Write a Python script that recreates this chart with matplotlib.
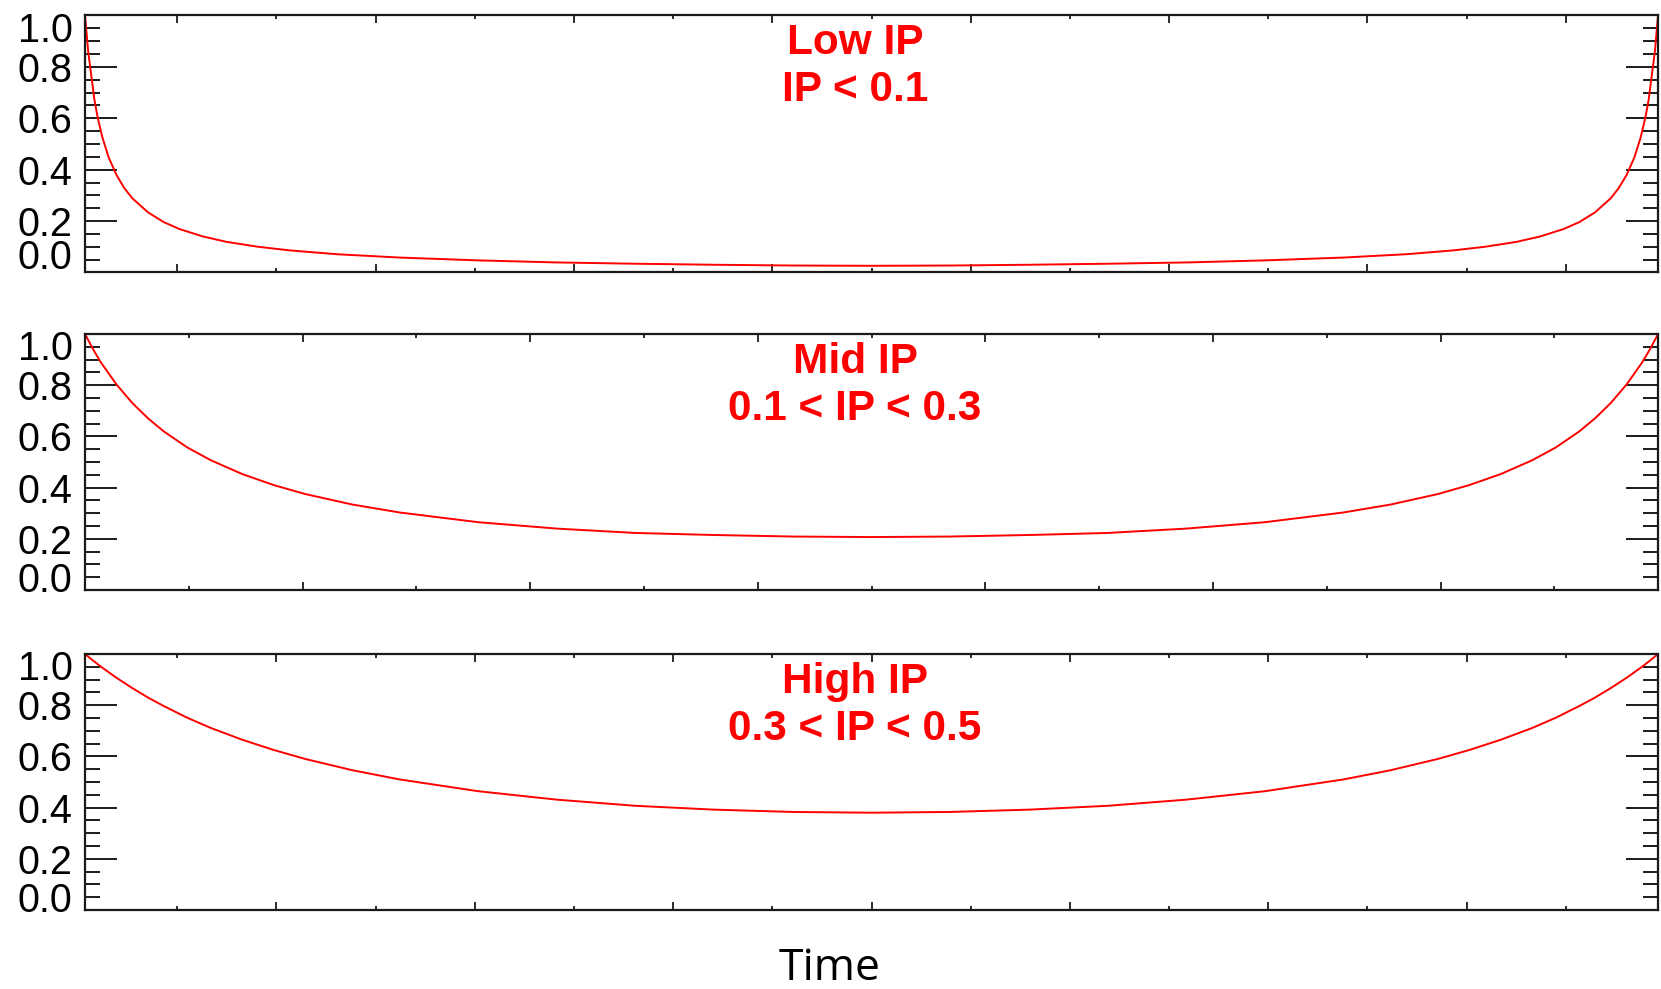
import numpy as np
import matplotlib
matplotlib.use('Agg')
import matplotlib.pyplot as plt

# time is normalised to 0..1 over the plotted interval
# panel 1 : low IP
t_low = [0, 0.002, 0.004, 0.006, 0.008, 0.011, 0.015, 0.02, 0.025, 0.03, 0.04, 0.05, 0.06,
         0.075, 0.09, 0.11, 0.13, 0.16, 0.2, 0.25, 0.3, 0.35, 0.4, 0.45, 0.5,
         0.55, 0.6, 0.65, 0.7, 0.75, 0.8, 0.84, 0.87, 0.89, 0.91, 0.925, 0.94, 0.95,
         0.96, 0.97, 0.975, 0.98, 0.985, 0.989, 0.992, 0.994, 0.996, 0.998, 1]
v_low = [1.0, 0.859, 0.765, 0.670, 0.604, 0.526, 0.448, 0.379, 0.328, 0.289, 0.234, 0.196, 0.169,
         0.140, 0.119, 0.100, 0.086, 0.071, 0.058, 0.047, 0.039, 0.034, 0.030, 0.027, 0.026,
         0.027, 0.030, 0.034, 0.039, 0.047, 0.058, 0.071, 0.086, 0.100, 0.119, 0.140, 0.169, 0.196,
         0.234, 0.289, 0.328, 0.379, 0.448, 0.526, 0.604, 0.670, 0.765, 0.859, 1.0]

# panels 2 and 3 share the same sampling in time
t_mid = [0, 0.005, 0.01, 0.02, 0.03, 0.04, 0.05, 0.065, 0.08, 0.1, 0.12, 0.14, 0.17, 0.2,
         0.25, 0.3, 0.35, 0.4, 0.45, 0.5,
         0.55, 0.6, 0.65, 0.7, 0.75, 0.8, 0.83, 0.86, 0.88, 0.9, 0.92, 0.935, 0.95, 0.96,
         0.97, 0.98, 0.99, 0.995, 1]
t_high = t_mid

# panel 2 : mid IP
v_mid = [1.0, 0.942, 0.890, 0.803, 0.731, 0.671, 0.620, 0.557, 0.507, 0.453, 0.410, 0.375, 0.334, 0.303,
         0.265, 0.240, 0.223, 0.215, 0.209, 0.207,
         0.209, 0.215, 0.223, 0.240, 0.265, 0.303, 0.334, 0.375, 0.410, 0.453, 0.507, 0.557, 0.620, 0.671,
         0.731, 0.803, 0.890, 0.942, 1.0]

# panel 3 : high IP
v_high = [1.0, 0.975, 0.951, 0.907, 0.867, 0.830, 0.797, 0.751, 0.711, 0.665, 0.625, 0.590, 0.546, 0.510,
          0.464, 0.431, 0.407, 0.392, 0.383, 0.380,
          0.383, 0.392, 0.407, 0.431, 0.464, 0.510, 0.546, 0.590, 0.625, 0.665, 0.711, 0.751, 0.797, 0.830,
          0.867, 0.907, 0.951, 0.975, 1.0]

titles = [('Low IP', 'IP < 0.1'), ('Mid IP', '0.1 < IP < 0.3'), ('High IP', '0.3 < IP < 0.5')]
y_labels = ['0.2', '0.4', '0.6', '0.8']

plt.rcParams['font.family'] = 'Liberation Sans'

fig = plt.figure(figsize=(16.61, 9.89), dpi=100)

# axes rectangles (fig fractions) for the three stacked panels
rects = [[0.0512, 0.7245, 0.947, 0.2599],
         [0.0512, 0.4034, 0.947, 0.2588],
         [0.0512, 0.0799, 0.947, 0.2588]]

# x tick spacing (fraction of the interval) and whether the centre tick is a major one
minor_step = [0.06306, 0.07235, 0.06306]
centre_major = [False, False, True]

# offsets in points of the end labels 1.0 and 0.0 (IDL pulls them inside the box)
top_shift = [-8, -8, -8]
bottom_shift = [13, 9.5, 9.5]

data = [(t_low, v_low), (t_mid, v_mid), (t_high, v_high)]
ink = '#1a1a1a'
lab_size = 28.5

for i in range(3):
    ax = fig.add_axes(rects[i])
    t, v = data[i]
    ax.plot(t, v, color='red', lw=1.4)
    ax.set_xlim(0, 1)
    ax.set_ylim(0, 1)

    # x ticks, symmetric about the centre
    k = np.arange(-9, 10)
    pos = 0.5 + k * minor_step[i]
    is_major = (k % 2 == 0) if centre_major[i] else (k % 2 != 0)
    inside = (pos > 0) & (pos < 1)
    ax.set_xticks(pos[is_major & inside])
    ax.set_xticks(pos[~is_major & inside], minor=True)
    ax.set_xticklabels([])

    ax.set_yticks([0.2, 0.4, 0.6, 0.8])
    ax.set_yticklabels(y_labels)
    ax.set_yticks(np.arange(0.05, 1.0, 0.05), minor=True)

    ax.tick_params(axis='x', which='major', direction='in', length=5.8, width=1.3,
                   top=True, bottom=True, color=ink)
    ax.tick_params(axis='x', which='minor', direction='in', length=2.9, width=1.3,
                   top=True, bottom=True, color=ink)
    ax.tick_params(axis='y', which='major', direction='in', length=23, width=1.4,
                   left=True, right=True, color=ink, labelsize=lab_size, pad=9)
    ax.tick_params(axis='y', which='minor', direction='in', length=10.8, width=1.4,
                   left=True, right=True, color=ink)
    for s in ax.spines.values():
        s.set_linewidth(1.6)
        s.set_color(ink)

    # end labels, shifted inward like the original
    ax.annotate('1.0', xy=(0, 1.0), xycoords=('axes fraction', 'data'),
                xytext=(-9, top_shift[i]), textcoords='offset points',
                ha='right', va='center_baseline', fontsize=lab_size)
    ax.annotate('0.0', xy=(0, 0.0), xycoords=('axes fraction', 'data'),
                xytext=(-9, bottom_shift[i]), textcoords='offset points',
                ha='right', va='center_baseline', fontsize=lab_size)

    # red panel titles
    ax.annotate(titles[i][0], xy=(0.4895, 1), xycoords='axes fraction',
                xytext=(0, -28), textcoords='offset points', ha='center', va='baseline',
                fontsize=30.5, fontweight='bold', color='red')
    ax.annotate(titles[i][1], xy=(0.4895, 1), xycoords='axes fraction',
                xytext=(0, -61.7), textcoords='offset points', ha='center', va='baseline',
                fontsize=30.5, fontweight='bold', color='red')

fig.text(0.4997, 0.009, 'Time', ha='center', va='baseline', fontsize=32, family='Open Sans')

fig.savefig('out.png', dpi=100)
